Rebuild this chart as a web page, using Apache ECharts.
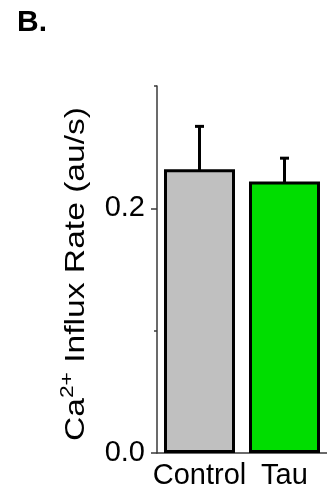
<!DOCTYPE html>
<html>
<head>
<meta charset="utf-8">
<script src="https://cdn.jsdelivr.net/npm/echarts@6/dist/echarts.min.js"></script>
<style>
html,body{margin:0;padding:0;background:#fff;}
#c{width:327px;height:499px;}
</style>
</head>
<body>
<div id="c"></div>
<script>
const categories = ['Control', 'Tau'];
const means = [0.232, 0.222];
const upperErrors = [0.035, 0.019];
const barColors = ['#c0c0c0', '#00dd00'];
const yMajorTicks = [0, 0.2];
const yMinorTicks = [0, 0.1, 0.2, 0.3];
const yMin = 0, yMax = 0.3;
const panelLabel = 'B.';

const FONT = 'Liberation Sans, Arial, sans-serif';
const chart = echarts.init(document.getElementById('c'));

const axisColor = '#3a3a3a';

chart.setOption({
  animation: false,
  title: {
    text: panelLabel, left: 12, top: 3,
    textStyle: { fontSize: 30, fontWeight: 'bold', fontFamily: FONT, color: '#000' }
  },
  grid: { left: 157, top: 86, width: 176, height: 367 },
  xAxis: {
    type: 'category',
    data: categories,
    axisLine: { lineStyle: { color: axisColor, width: 1.5 } },
    axisTick: { alignWithLabel: true, length: 6, lineStyle: { color: axisColor, width: 1.5 } },
    axisLabel: { interval: 0, fontSize: 29, color: '#000', fontFamily: FONT, margin: 8 }
  },
  yAxis: [{
    type: 'value', min: yMin, max: yMax, interval: 0.1,
    axisLine: { show: true, lineStyle: { color: axisColor, width: 1.5 } },
    axisTick: { show: true, customValues: yMinorTicks, length: 3, lineStyle: { color: axisColor, width: 1.5 } },
    axisLabel: { customValues: yMajorTicks, formatter: v => v.toFixed(1), fontSize: 29, color: '#000', fontFamily: FONT, margin: 12 },
    splitLine: { show: false }
  }, {
    type: 'value', min: yMin, max: yMax, interval: 0.1, position: 'left',
    axisLine: { show: false },
    axisTick: { show: true, customValues: yMajorTicks, length: 6, lineStyle: { color: axisColor, width: 1.5 } },
    axisLabel: { show: false },
    splitLine: { show: false }
  }],
  graphic: [{
    type: 'text',
    x: 76, y: 274,
    rotation: Math.PI / 2,
    scaleX: 1.2,
    style: {
      text: '{a|Ca}{s|2+}{a| Influx Rate (au/s)}',
      align: 'center', verticalAlign: 'middle',
      fill: '#000', fontSize: 28, fontFamily: FONT,
      rich: {
        a: { fontSize: 28, fontFamily: FONT, fill: '#000', lineHeight: 28, verticalAlign: 'bottom' },
        s: { fontSize: 19, fontFamily: FONT, fill: '#000', lineHeight: 19, verticalAlign: 'bottom', padding: [0, 0, 13, 0] }
      }
    }
  }],
  series: [{
    type: 'bar',
    yAxisIndex: 0,
    barWidth: 71,
    data: means.map((v, i) => ({ value: v, itemStyle: { color: barColors[i] } })),
    itemStyle: { borderColor: '#000', borderWidth: 3 }
  }, {
    type: 'custom',
    yAxisIndex: 0,
    z: 3,
    data: means.map((v, i) => [i, v, upperErrors[i]]),
    renderItem: function (params, api) {
      const x = api.value(0), y = api.value(1), e = api.value(2);
      const base = api.coord([x, y]);
      const top = api.coord([x, y + e]);
      const st = { stroke: '#000', lineWidth: 3 };
      return {
        type: 'group',
        children: [
          { type: 'line', shape: { x1: base[0], y1: base[1] + 1, x2: top[0], y2: top[1] }, style: st },
          { type: 'line', shape: { x1: top[0] - 4.5, y1: top[1], x2: top[0] + 4.5, y2: top[1] }, style: st }
        ]
      };
    }
  }]
});
</script>
</body>
</html>
